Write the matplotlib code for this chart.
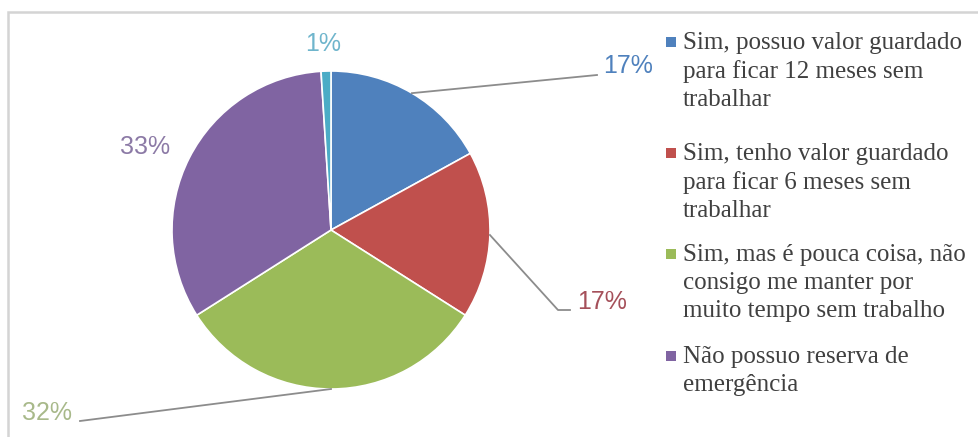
import matplotlib.pyplot as plt
from matplotlib.patches import Rectangle
import numpy as np

# fatias, a partir do topo, sentido horario
valores = [17, 17, 32, 33, 1]
rotulos_pct = ['17%', '17%', '32%', '33%', '1%']
cores = ['#4F81BD', '#C0504D', '#9BBB59', '#8064A2', '#4BACC6']
cores_txt = ['#4F81BD', '#A5505A', '#A8B98A', '#8C7AA6', '#6FB5CC']
legenda = [
    'Sim, possuo valor guardado\npara ficar 12 meses sem\ntrabalhar',
    'Sim, tenho valor guardado\npara ficar 6 meses sem\ntrabalhar',
    'Sim, mas é pouca coisa, não\nconsigo me manter por\nmuito tempo sem trabalho',
    'Não possuo reserva de\nemergência',
]

W, H = 979, 437
fig = plt.figure(figsize=(W / 100, H / 100), dpi=100)

# moldura do grafico
fig.patches.append(Rectangle((8 / W, -0.05), 1.1, 1 - 12 / H + 0.05,
                             transform=fig.transFigure, fill=False,
                             edgecolor='#d4d4d4', linewidth=1.8))

cx, cy, r = 331, 230, 159
ax = fig.add_axes([(cx - r) / W, (H - cy - r) / H, 2 * r / W, 2 * r / H])
wedges, _ = ax.pie(valores, colors=cores, startangle=90, counterclock=False,
                   radius=1, wedgeprops=dict(edgecolor='white', linewidth=1.2))
ax.set_xlim(-1, 1)
ax.set_ylim(-1, 1)
ax.axis('off')

def px(x, y):
    return ((x - cx) / r, (cy - y) / r)

# posicoes dos rotulos (pixels)
pos_txt = [(628, 66), (602, 302), (47, 413), (145, 147), (323, 44)]
# pontas das linhas de chamada
fim_linha = {0: [(597, 75)], 1: [(558, 310), (570, 310)], 2: [(80, 421)]}

for i, w in enumerate(wedges):
    tx, ty = px(*pos_txt[i])
    ax.text(tx, ty, rotulos_pct[i], color=cores_txt[i], fontsize=18,
            family='Liberation Sans', ha='center', va='center', clip_on=False)
    if i in fim_linha:
        ang = np.deg2rad((w.theta1 + w.theta2) / 2)
        xs = [np.cos(ang)] + [px(*p)[0] for p in fim_linha[i]]
        ys = [np.sin(ang)] + [px(*p)[1] for p in fim_linha[i]]
        ax.plot(xs, ys, color='#8c8c8c', linewidth=1.3, clip_on=False)

# legenda
topos = [42, 153, 254, 356]
for i, txt in enumerate(legenda):
    y = topos[i]
    fig.patches.append(Rectangle((666 / W, 1 - (y + 5) / H), 10 / W, 10 / H,
                                 transform=fig.transFigure,
                                 facecolor=cores[i], edgecolor='none'))
    fig.text(683 / W, 1 - (y - 10) / H, txt, fontsize=18,
             family='Liberation Serif', color='#404040', va='top', ha='left',
             linespacing=1.35)

fig.savefig('out.png', dpi=100)
